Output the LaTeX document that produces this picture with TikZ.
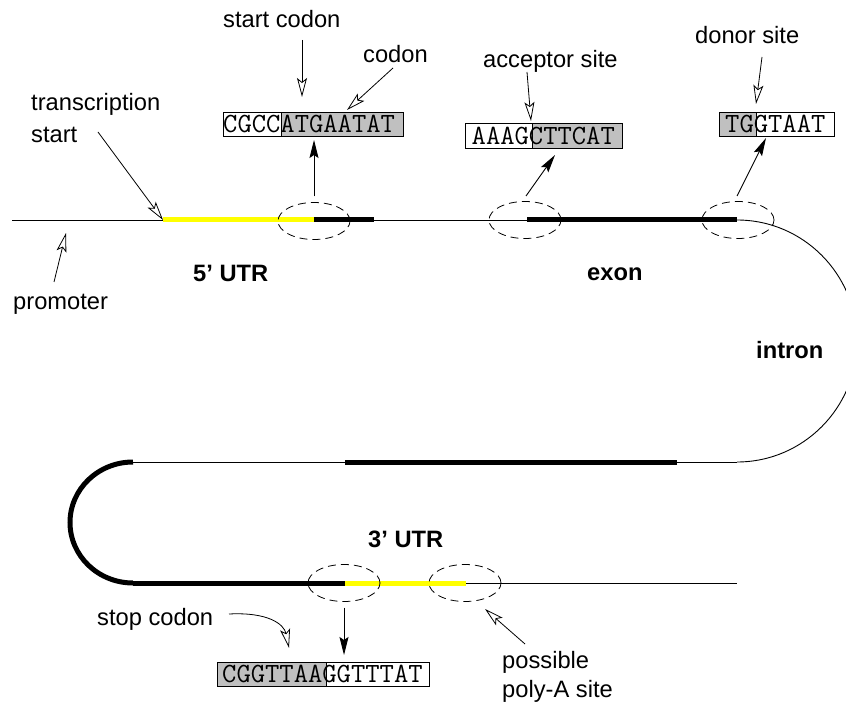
\documentclass[tikz,border=0pt]{standalone}
\usepackage{fontspec}
\setmainfont{Liberation Sans}
\usetikzlibrary{arrows.meta,shapes.geometric}
\definecolor{boxgray}{RGB}{192,192,192}
\definecolor{geneyellow}{RGB}{255,255,0}
\begin{document}
\begin{tikzpicture}[x=1pt,y=-1pt,
  lbl/.style={font=\fontsize{23.7}{30}\selectfont, inner sep=0, anchor=base west, align=left},
  blbl/.style={lbl, font=\fontsize{23.7}{30}\selectfont\bfseries},
  seq/.style={font=\fontsize{27.8}{30}\selectfont\ttfamily, inner sep=0, anchor=west},
  whitebox/.style={draw, fill=white, inner sep=0, outer sep=0, line width=0.8pt, minimum height=24},
  graybox/.style={whitebox, fill=boxgray},
  dnaline/.style={line width=0.9pt},
  thickbar/.style={line width=5pt},
  site/.style={draw, ellipse, minimum width=72, minimum height=37, inner sep=0, outer sep=0,
    dash pattern=on 8pt off 5pt, line width=0.8pt},
  openarr/.style={-{Stealth[open, length=19pt, width=10pt, inset=4pt]}, line width=0.8pt},
  fillarr/.style={-{Stealth[length=18pt, width=9pt, inset=3pt]}, line width=0.9pt},
]
\useasboundingbox (0,0) rectangle (846,703);
\clip (0,0) rectangle (846,703);

% ---- upper strand ----
\coordinate (p0) at (12,220);
\coordinate (tss) at (163,220);
\coordinate (atg) at (314,220);
\coordinate (cds1e) at (374,220);
\coordinate (acc) at (527,220);
\coordinate (don) at (737,220);
\draw[dnaline] (p0) -- (tss);
\draw[thickbar, geneyellow] (tss) -- (atg);
\draw[thickbar] (atg) -- (cds1e);
\draw[dnaline] (cds1e) -- (acc);
\draw[thickbar] (acc) -- (don);
% intron curve
\draw[dnaline] (don) arc[start angle=-90, end angle=90, x radius=120, y radius=121] coordinate (intE);
% ---- lower strands ----
\coordinate (l1a) at (677,462);
\coordinate (l1b) at (466,462);
\coordinate (l1c) at (345,462);
\coordinate (l1d) at (133,462);
\draw[dnaline] (intE) -- (l1a);
\draw[thickbar] (l1a) -- (l1b);
\draw[thickbar] (l1b) -- (l1c);
\draw[dnaline] (l1c) -- (l1d);
\draw[thickbar] (l1d) arc[start angle=270, end angle=90, x radius=63, y radius=60.5] coordinate (l2a);
\coordinate (stop) at (345,583);
\coordinate (pa) at (466,583);
\coordinate (l2e) at (737,583);
\draw[thickbar] (l2a) -- (stop);
\draw[thickbar, geneyellow] (stop) -- (pa);
\draw[dnaline] (pa) -- (l2e);

% ---- dashed sites ----
\node[site] (s1) at (314,221) {};
\node[site] (s2) at (525,220) {};
\node[site] (s3) at (738,220) {};
\node[site] (s4) at (344,583) {};
\node[site] (s5) at (465,583) {};

% ---- sequence boxes ----
\node[whitebox, minimum width=58] (b1a) at (252,124) {};
\node[graybox, minimum width=122] (b1b) at (342,124) {};
\node[seq] (t1) at (223,124) {CGCCATGAATAT};

\node[whitebox, minimum width=67, minimum height=25] (b2a) at (498.5,135.5) {};
\node[graybox, minimum width=90, minimum height=25] (b2b) at (577,135.5) {};
\node[seq] (t2) at (471.5,135.5) {AAAGCTTCAT};

\node[graybox, minimum width=37] (b3a) at (737.5,124) {};
\node[whitebox, minimum width=78] (b3b) at (795,124) {};
\node[seq] (t3) at (725,124) {TGGTAAT};

\node[graybox, minimum width=109] (b4a) at (271.5,674) {};
\node[whitebox, minimum width=103] (b4b) at (377.5,674) {};
\node[seq] (t4) at (222,674) {CGGTTAAGGTTTAT};

% ---- labels ----
\node[lbl] (lstart) at (223,28) {start codon};
\node[lbl] (lcodon) at (363,63) {codon};
\node[lbl] (lacc) at (483,68) {acceptor site};
\node[lbl] (ldon) at (695,44) {donor site};
\node[lbl, font=\fontsize{23.7}{32}\selectfont] (ltss) at (31,143) {transcription\\start};
\node[lbl] (lprom) at (13,309) {promoter};
\node[blbl] (l5utr) at (193,282) {5’ UTR};
\node[blbl] (lexon) at (587,281) {exon};
\node[blbl] (lintron) at (756,358) {intron};
\node[blbl] (l3utr) at (368,547) {3’ UTR};
\node[lbl] (lstop) at (97,625) {stop codon};
\node[lbl, font=\fontsize{23.7}{29}\selectfont] (lpoly) at (502,697) {possible\\poly-A site};

% ---- open (label) arrows ----
\coordinate (a1s) at (98,132);
\draw[openarr] (a1s) -- (tss);
\coordinate (a2s) at (54,282);
\coordinate (a2e) at (66,233);
\draw[openarr] (a2s) -- (a2e);
\coordinate (a3s) at (302,40);
\coordinate (a3e) at (302,97);
\draw[openarr] (a3s) -- (a3e);
\coordinate (a4s) at (393,68);
\coordinate (a4e) at (347,110);
\draw[openarr] (a4s) -- (a4e);
\coordinate (a6s) at (527,72);
\coordinate (a6e) at (531,121);
\draw[openarr] (a6s) -- (a6e);
\coordinate (a8s) at (762,57);
\coordinate (a8e) at (756,104);
\draw[openarr] (a8s) -- (a8e);
\coordinate (a10s) at (229,614);
\coordinate (a10e) at (289,648);
\draw[openarr] (a10s) .. controls (268,612) and (284,624) .. (a10e);
\coordinate (a12s) at (525,644);
\coordinate (a12e) at (485,609);
\draw[openarr] (a12s) -- (a12e);

% ---- filled (site) arrows ----
\coordinate (f1e) at (314,140);
\draw[fillarr] ([yshift=6pt]s1.north) -- (f1e);
\coordinate (f2s) at (526,196);
\coordinate (f2e) at (555,155);
\draw[fillarr] (f2s) -- (f2e);
\coordinate (f3s) at (737,196);
\coordinate (f3e) at (766,138);
\draw[fillarr] (f3s) -- (f3e);
\coordinate (f4e) at (344,655);
\draw[fillarr] ([yshift=-6pt]s4.south) -- (f4e);
\end{tikzpicture}
\end{document}
